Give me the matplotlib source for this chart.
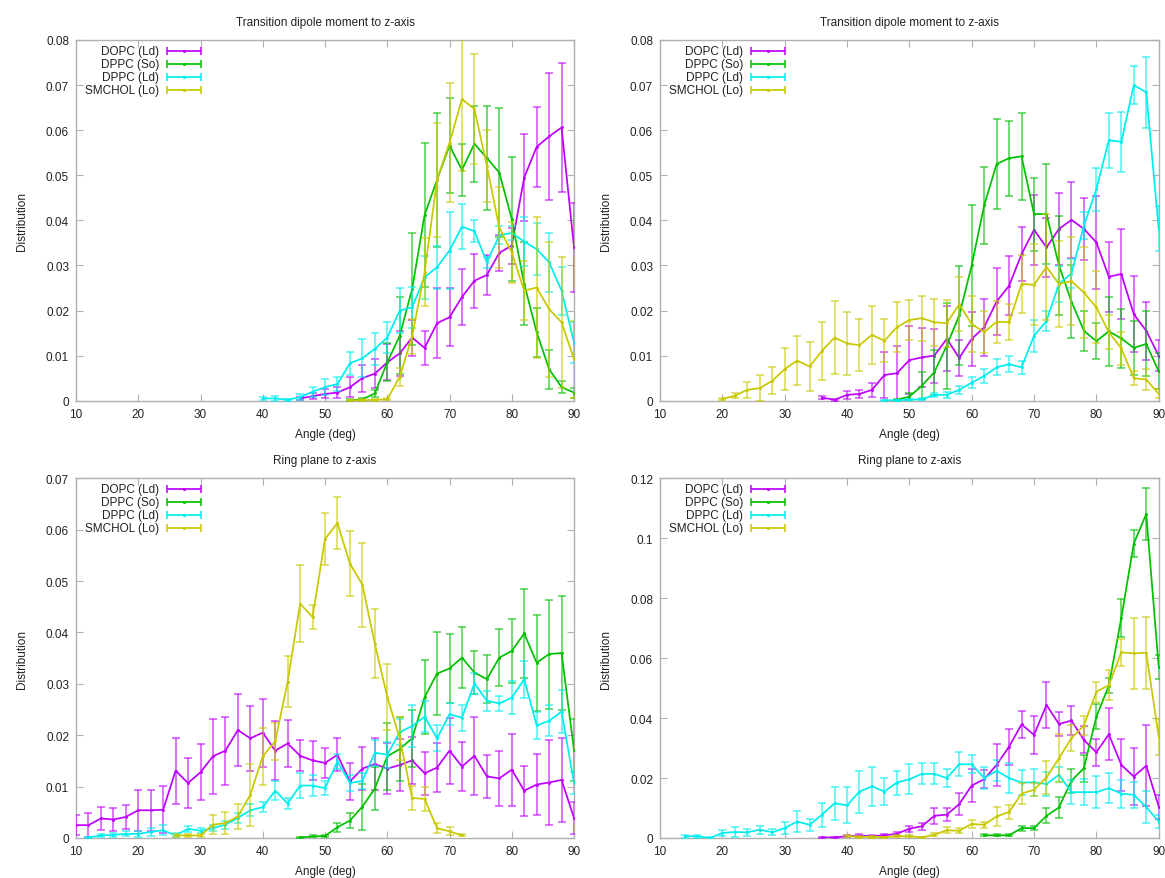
import numpy as np
import matplotlib
matplotlib.use("Agg")
import matplotlib.pyplot as plt
from matplotlib.ticker import FuncFormatter, MultipleLocator

plt.rcParams['font.family'] = ['Liberation Sans', 'DejaVu Sans']

series_names = ["DOPC (Ld)", "DPPC (So)", "DPPC (Ld)", "SMCHOL (Lo)"]
series_colors = ["#c000ff", "#00c000", "#00eeee", "#c8c800"]

titles = ["Transition dipole moment to z-axis", "Transition dipole moment to z-axis",
          "Ring plane to z-axis", "Ring plane to z-axis"]
xlabel = "Angle (deg)"
ylabel = "Distribution"
y_max = [0.08, 0.08, 0.07, 0.12]
y_step = [0.01, 0.01, 0.01, 0.02]

# ---------------- Panel 1 (top-left) ----------------
p1_dopc_x = list(range(46, 91, 2))
p1_dopc_y = [0.0005, 0.001, 0.0015, 0.0018, 0.003, 0.005, 0.006, 0.0085, 0.0105, 0.014, 0.0117, 0.0172,
             0.0185, 0.023, 0.0266, 0.0279, 0.0328, 0.0344, 0.0495, 0.0563, 0.0586, 0.0606, 0.034]
p1_dopc_e = [0.0004, 0.0007, 0.001, 0.0012, 0.0022, 0.003, 0.0032, 0.004, 0.005, 0.004, 0.0038, 0.0077,
             0.0064, 0.0062, 0.006, 0.0045, 0.004, 0.004, 0.0097, 0.0089, 0.014, 0.0143, 0.0098]
p1_dpso_x = list(range(54, 91, 2))
p1_dpso_y = [0.0001, 0.0003, 0.0016, 0.0085, 0.0144, 0.0248, 0.0412, 0.049, 0.0566, 0.0512, 0.057, 0.0538,
             0.0506, 0.0403, 0.0259, 0.0152, 0.007, 0.003, 0.0018]
p1_dpso_e = [0.0002, 0.0004, 0.0008, 0.0042, 0.0085, 0.0125, 0.016, 0.0149, 0.0105, 0.0057, 0.0084, 0.0115,
             0.0144, 0.0138, 0.0092, 0.0054, 0.0043, 0.0013, 0.0011]
p1_dpld_x = list(range(40, 91, 2))
p1_dpld_y = [0.0005, 0.0005, 0.0002, 0.0008, 0.002, 0.003, 0.0037, 0.0083, 0.0094, 0.0115, 0.014, 0.02,
             0.0207, 0.0274, 0.0296, 0.0333, 0.0386, 0.0376, 0.0307, 0.0367, 0.0372, 0.0353, 0.0336, 0.0307,
             0.0244, 0.0129]
p1_dpld_e = [0.0004, 0.0005, 0.0002, 0.0006, 0.0011, 0.0018, 0.0015, 0.0026, 0.0042, 0.0035, 0.0034, 0.005,
             0.0045, 0.0048, 0.0048, 0.0085, 0.005, 0.0025, 0.0012, 0.002, 0.0015, 0.0054, 0.0058, 0.0065,
             0.0053, 0.0045]
p1_smch_x = list(range(54, 91, 2))
p1_smch_y = [0.0001, 0.0001, 0.0002, 0.0003, 0.0053, 0.0143, 0.0285, 0.049, 0.0572, 0.0669, 0.0647, 0.0521,
             0.0384, 0.0329, 0.0244, 0.0251, 0.0203, 0.0174, 0.0092]
p1_smch_e = [0.0001, 0.0002, 0.0002, 0.0002, 0.002, 0.0039, 0.0076, 0.0126, 0.0132, 0.016, 0.0123, 0.008,
             0.0089, 0.0068, 0.0065, 0.0157, 0.015, 0.0145, 0.0085]

# ---------------- Panel 2 (top-right) ----------------
p2_dopc_x = list(range(36, 91, 2))
p2_dopc_y = [0.0007, 0.0002, 0.0013, 0.0015, 0.0024, 0.0057, 0.0061, 0.009, 0.0096, 0.01, 0.0137, 0.0095,
             0.0137, 0.0163, 0.022, 0.0255, 0.0325, 0.0379, 0.034, 0.0381, 0.0401, 0.0381, 0.0351, 0.0275,
             0.0281, 0.0192, 0.0155, 0.01]
p2_dopc_e = [0.0004, 0.0002, 0.0009, 0.0008, 0.0015, 0.005, 0.006, 0.0075, 0.0065, 0.006, 0.0072, 0.004,
             0.006, 0.0063, 0.0075, 0.0065, 0.006, 0.0078, 0.0065, 0.008, 0.0085, 0.0068, 0.0103, 0.0078,
             0.01, 0.0085, 0.0064, 0.0035]
p2_dpso_x = list(range(48, 91, 2))
p2_dpso_y = [0.0002, 0.0009, 0.0033, 0.0063, 0.0122, 0.0189, 0.03, 0.0433, 0.0525, 0.0538, 0.0542, 0.0414,
             0.0414, 0.03, 0.022, 0.0155, 0.0132, 0.0154, 0.0138, 0.0117, 0.0126, 0.0065]
p2_dpso_e = [0.0002, 0.0008, 0.003, 0.005, 0.0095, 0.011, 0.0135, 0.0086, 0.01, 0.0083, 0.0096, 0.0081,
             0.011, 0.011, 0.008, 0.0045, 0.004, 0.0076, 0.0066, 0.006, 0.0072, 0.004]
p2_dpld_x = list(range(46, 91, 2))
p2_dpld_y = [0.0001, 0.0001, 0.0002, 0.0003, 0.0013, 0.0013, 0.0024, 0.004, 0.0055, 0.0074, 0.0081, 0.0074,
             0.0144, 0.0177, 0.0259, 0.0282, 0.0388, 0.0469, 0.0578, 0.0574, 0.07, 0.0684, 0.0381]
p2_dpld_e = [0.0001, 0.0001, 0.0001, 0.0002, 0.0004, 0.0006, 0.0009, 0.0012, 0.0016, 0.0018, 0.0018, 0.0015,
             0.0035, 0.0022, 0.004, 0.0032, 0.003, 0.0048, 0.0061, 0.0066, 0.0042, 0.0079, 0.005]
p2_smch_x = list(range(20, 91, 2))
p2_smch_y = [0.0004, 0.0011, 0.0024, 0.0028, 0.0044, 0.007, 0.0089, 0.0076, 0.0111, 0.014, 0.0127, 0.0123,
             0.0146, 0.0133, 0.0163, 0.0179, 0.0183, 0.0174, 0.0172, 0.0214, 0.017, 0.0152, 0.0175, 0.0174,
             0.0259, 0.0257, 0.0297, 0.0259, 0.0265, 0.024, 0.0207, 0.0152, 0.0116, 0.005, 0.0047, 0.0015]
p2_smch_e = [0.0002, 0.0006, 0.0018, 0.0028, 0.003, 0.0047, 0.0054, 0.0054, 0.0064, 0.0081, 0.0069, 0.0058,
             0.0065, 0.0048, 0.0056, 0.0045, 0.005, 0.0052, 0.0052, 0.006, 0.0063, 0.0047, 0.0047, 0.004,
             0.0064, 0.009, 0.0117, 0.0095, 0.0097, 0.01, 0.008, 0.0037, 0.0037, 0.0015, 0.0023, 0.001]

# ---------------- Panel 3 (bottom-left) ----------------
p3_dopc_x = list(range(10, 91, 2))
p3_dopc_y = [0.0025, 0.0025, 0.0038, 0.0036, 0.0041, 0.0054, 0.0054, 0.0055, 0.0131, 0.0107, 0.0128, 0.0159,
             0.017, 0.021, 0.0194, 0.0205, 0.017, 0.0184, 0.016, 0.0151, 0.0146, 0.0162, 0.011, 0.0135,
             0.0144, 0.0135, 0.0142, 0.0151, 0.0126, 0.0137, 0.017, 0.0139, 0.016, 0.012, 0.0116, 0.0133,
             0.0092, 0.0104, 0.0108, 0.0113, 0.0039]
p3_dopc_e = [0.002, 0.0023, 0.0023, 0.0023, 0.0024, 0.004, 0.004, 0.0046, 0.0064, 0.0049, 0.0054, 0.0073,
             0.0066, 0.007, 0.0063, 0.0066, 0.0057, 0.0045, 0.003, 0.0038, 0.003, 0.0032, 0.0036, 0.0042,
             0.005, 0.005, 0.005, 0.0045, 0.0042, 0.0048, 0.0064, 0.0047, 0.0076, 0.0042, 0.0053, 0.007,
             0.0049, 0.006, 0.0083, 0.0082, 0.0032]
p3_dpso_x = list(range(46, 91, 2))
p3_dpso_y = [0.0001, 0.0003, 0.0004, 0.0021, 0.0034, 0.0061, 0.0096, 0.0159, 0.0173, 0.0194, 0.0274, 0.032,
             0.033, 0.0351, 0.0322, 0.0309, 0.0351, 0.0364, 0.0398, 0.0341, 0.0358, 0.036, 0.0171]
p3_dpso_e = [0.0001, 0.0002, 0.0002, 0.0009, 0.0015, 0.0045, 0.0042, 0.0065, 0.0063, 0.0055, 0.0072, 0.0081,
             0.0067, 0.006, 0.0042, 0.0047, 0.0055, 0.0062, 0.0086, 0.0093, 0.0106, 0.011, 0.006]
p3_dpld_x = list(range(12, 91, 2))
p3_dpld_y = [0.0001, 0.0005, 0.0006, 0.0008, 0.0008, 0.0012, 0.0015, 0.0005, 0.0018, 0.0014, 0.0019, 0.0026,
             0.0039, 0.0054, 0.006, 0.0092, 0.0067, 0.0102, 0.0102, 0.0097, 0.0149, 0.0107, 0.0111, 0.0166,
             0.0162, 0.0206, 0.0218, 0.0236, 0.0194, 0.0241, 0.0234, 0.0301, 0.0267, 0.0262, 0.0273, 0.0309,
             0.0219, 0.0228, 0.0246, 0.0107]
p3_dpld_e = [0.0001, 0.0003, 0.0004, 0.0005, 0.0006, 0.0008, 0.001, 0.0004, 0.0006, 0.0005, 0.0006, 0.0008,
             0.001, 0.0012, 0.001, 0.0018, 0.001, 0.0025, 0.0021, 0.0014, 0.0015, 0.0016, 0.0015, 0.0025,
             0.0025, 0.0025, 0.004, 0.003, 0.0025, 0.0022, 0.0025, 0.0021, 0.0019, 0.0014, 0.0032, 0.0036,
             0.0026, 0.003, 0.0042, 0.0021]
p3_smch_x = list(range(26, 73, 2))
p3_smch_y = [0.0005, 0.0005, 0.0005, 0.0026, 0.0029, 0.0042, 0.0084, 0.0159, 0.0188, 0.0304, 0.0456, 0.043,
             0.0582, 0.0613, 0.0534, 0.0493, 0.0378, 0.0275, 0.0194, 0.0078, 0.0076, 0.0019, 0.0013, 0.0005]
p3_smch_e = [0.0003, 0.0003, 0.0003, 0.0018, 0.0022, 0.0025, 0.006, 0.0055, 0.0036, 0.005, 0.0075, 0.0023,
             0.005, 0.005, 0.0063, 0.0082, 0.0067, 0.0064, 0.0042, 0.0023, 0.0023, 0.001, 0.0008, 0.0002]

# ---------------- Panel 4 (bottom-right) ----------------
p4_dopc_x = list(range(36, 91, 2))
p4_dopc_y = [0.0002, 0.0002, 0.0006, 0.0008, 0.0006, 0.0009, 0.0014, 0.0031, 0.0039, 0.0074, 0.0078, 0.0113,
             0.0175, 0.0196, 0.0244, 0.0305, 0.0379, 0.0344, 0.0444, 0.038, 0.0392, 0.0327, 0.0286, 0.0346,
             0.0244, 0.0205, 0.0241, 0.0105]
p4_dopc_e = [0.0002, 0.0002, 0.0003, 0.0004, 0.0003, 0.0005, 0.0006, 0.001, 0.0012, 0.0026, 0.0022, 0.0036,
             0.0054, 0.003, 0.007, 0.006, 0.0045, 0.0063, 0.0078, 0.004, 0.0048, 0.0045, 0.0045, 0.0087,
             0.0086, 0.0094, 0.0135, 0.004]
p4_dpso_x = list(range(62, 91, 2))
p4_dpso_y = [0.0009, 0.0009, 0.0009, 0.0033, 0.0033, 0.0074, 0.0102, 0.0191, 0.0233, 0.0405, 0.0508, 0.0734,
             0.0982, 0.1081, 0.0571]
p4_dpso_e = [0.0003, 0.0003, 0.0003, 0.0008, 0.0006, 0.0025, 0.0035, 0.004, 0.0045, 0.0043, 0.0025, 0.0064,
             0.0046, 0.0088, 0.004]
p4_dpld_x = list(range(14, 91, 2))
p4_dpld_y = [0.0006, 0.0006, 0.0, 0.0017, 0.002, 0.0019, 0.0028, 0.0019, 0.0033, 0.0055, 0.0044, 0.0078,
             0.0116, 0.0109, 0.0155, 0.0172, 0.0155, 0.0185, 0.0196, 0.0214, 0.0214, 0.02, 0.0246, 0.0246,
             0.02, 0.0224, 0.02, 0.0185, 0.0186, 0.018, 0.0211, 0.0153, 0.0153, 0.0153, 0.0166, 0.0148,
             0.0144, 0.0103, 0.0055]
p4_dpld_e = [0.0005, 0.0005, 0.0002, 0.001, 0.0017, 0.0012, 0.0013, 0.001, 0.002, 0.0035, 0.002, 0.004,
             0.0055, 0.006, 0.007, 0.0065, 0.0045, 0.004, 0.005, 0.0035, 0.0035, 0.003, 0.004, 0.003,
             0.0037, 0.0035, 0.005, 0.0042, 0.0045, 0.004, 0.0025, 0.0039, 0.0043, 0.0053, 0.005, 0.0047,
             0.0043, 0.0053, 0.0023]
p4_smch_x = list(range(40, 91, 2))
p4_smch_y = [0.0006, 0.0004, 0.0004, 0.0003, 0.0006, 0.0006, 0.0002, 0.0011, 0.0026, 0.0024, 0.0047, 0.0044,
             0.0072, 0.0087, 0.0148, 0.0161, 0.0202, 0.0266, 0.0333, 0.0375, 0.0488, 0.051, 0.0619, 0.0616,
             0.0618, 0.0338]
p4_smch_e = [0.0003, 0.0003, 0.0003, 0.0002, 0.0003, 0.0003, 0.0002, 0.0005, 0.001, 0.0008, 0.0012, 0.0011,
             0.0033, 0.0024, 0.0036, 0.0022, 0.0055, 0.008, 0.0044, 0.0033, 0.0033, 0.005, 0.0044, 0.0118,
             0.012, 0.006]

panels = [
    [(p1_dopc_x, p1_dopc_y, p1_dopc_e), (p1_dpso_x, p1_dpso_y, p1_dpso_e),
     (p1_dpld_x, p1_dpld_y, p1_dpld_e), (p1_smch_x, p1_smch_y, p1_smch_e)],
    [(p2_dopc_x, p2_dopc_y, p2_dopc_e), (p2_dpso_x, p2_dpso_y, p2_dpso_e),
     (p2_dpld_x, p2_dpld_y, p2_dpld_e), (p2_smch_x, p2_smch_y, p2_smch_e)],
    [(p3_dopc_x, p3_dopc_y, p3_dopc_e), (p3_dpso_x, p3_dpso_y, p3_dpso_e),
     (p3_dpld_x, p3_dpld_y, p3_dpld_e), (p3_smch_x, p3_smch_y, p3_smch_e)],
    [(p4_dopc_x, p4_dopc_y, p4_dopc_e), (p4_dpso_x, p4_dpso_y, p4_dpso_e),
     (p4_dpld_x, p4_dpld_y, p4_dpld_e), (p4_smch_x, p4_smch_y, p4_smch_e)],
]

W, H = 1165, 879
fig = plt.figure(figsize=(W / 100, H / 100), dpi=100)

# axes boxes in pixels: (left, right, top, bottom)
boxes = [(76, 574, 41, 401.7), (660, 1158.7, 41, 401.7),
         (76, 574, 479.3, 839), (660, 1158.7, 479.3, 839)]

frame_col = "#b0b0b0"
text_col = "#222222"
fmt = FuncFormatter(lambda v, p: f"{round(v, 6):g}")

for i, (l, r, t, b) in enumerate(boxes):
    ax = fig.add_axes([l / W, 1 - b / H, (r - l) / W, (b - t) / H])
    for k, (xs, ys, es) in enumerate(panels[i]):
        c = series_colors[k]
        # error bars (lighter) then the line on top
        ax.errorbar(xs, ys, yerr=es, color=c, fmt='none', elinewidth=1.1,
                    capsize=2.6, capthick=1.1, alpha=0.7, zorder=3 + k)
        ax.plot(xs, ys, color=c, lw=1.25, marker='.', markersize=2.2, zorder=3.5 + k)
        # legend sample (gnuplot style: label left, horizontal bar right)
        ly = 0.9695 - k * 0.0357
        ax.errorbar([0.2165], [ly], xerr=[0.0335], transform=ax.transAxes,
                    color=c, lw=1.25, elinewidth=1.25, capsize=3, capthick=1.1,
                    marker='.', markersize=2.5, clip_on=False, zorder=10)
        ax.text(0.167, ly, series_names[k], transform=ax.transAxes, ha='right', va='center',
                fontsize=8.5, color=text_col)
    ax.set_xlim(10, 90)
    ax.set_ylim(0, y_max[i])
    ax.xaxis.set_major_locator(MultipleLocator(10))
    ax.yaxis.set_major_locator(MultipleLocator(y_step[i]))
    ax.yaxis.set_major_formatter(fmt)
    ax.tick_params(direction='in', top=True, right=True, length=5, width=0.8,
                   color=frame_col, labelsize=8.5, labelcolor=text_col, pad=5)
    for s in ax.spines.values():
        s.set_color(frame_col)
        s.set_linewidth(1.0)
    ax.set_title(titles[i], fontsize=8.5, color=text_col, pad=11)
    ax.set_xlabel(xlabel, fontsize=8.5, color=text_col, labelpad=6)
    ax.set_ylabel(ylabel, fontsize=8.5, color=text_col, labelpad=13)

fig.savefig("out.png", dpi=100)
